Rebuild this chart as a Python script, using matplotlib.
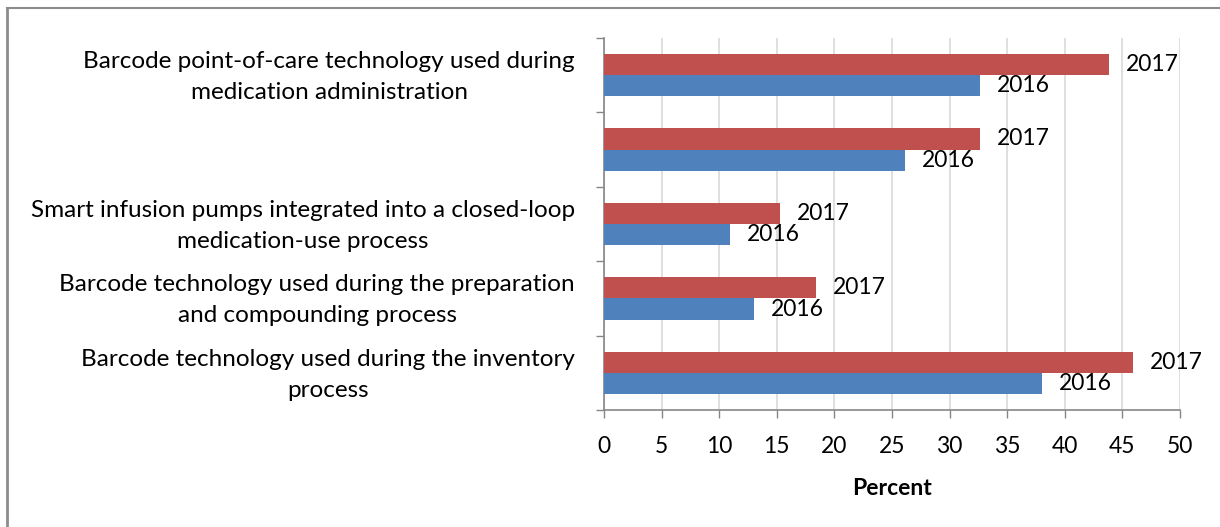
import numpy as np
import matplotlib.pyplot as plt
from matplotlib.lines import Line2D

plt.rcParams['font.family'] = ['Lato', 'DejaVu Sans']

# data (top to bottom as in the chart)
categories = [
    "Barcode point-of-care technology used during\nmedication administration",
    "",
    "Smart infusion pumps integrated into a closed-loop\nmedication-use process",
    "Barcode technology used during the preparation\nand compounding process",
    "Barcode technology used during the inventory\nprocess",
]
vals_2017 = [43.8, 32.6, 15.3, 18.4, 45.9]
vals_2016 = [32.6, 26.1, 10.9, 13.0, 38.0]
series_names = ["2017", "2016"]
xticks = list(range(0, 51, 5))

red = '#C0504D'
blue = '#4F81BD'
grid_c = '#D9D9D9'
axis_c = '#868686'

fig = plt.figure(figsize=(12.2, 5.27), dpi=100)
ax = fig.add_axes([604 / 1220, 1 - 410 / 527, 576 / 1220, 372 / 527])

n = len(categories)
y = np.arange(n)[::-1]  # top category at highest y
h = 0.286

b17 = ax.barh(y + h / 2, vals_2017, height=h, color=red, zorder=3)
b16 = ax.barh(y - h / 2, vals_2016, height=h, color=blue, zorder=3)

for bars, name in [(b17, series_names[0]), (b16, series_names[1])]:
    for rect in bars:
        ax.annotate(name, (rect.get_width(), rect.get_y() + rect.get_height() / 2),
                    xytext=(17, 0), textcoords='offset pixels',
                    va='center', ha='left', fontsize=16.5)

ax.set_xlim(0, 50)
ax.set_ylim(-0.5, n - 0.5)
ax.set_xticks(xticks)
ax.set_xticklabels([str(t) for t in xticks], fontsize=16.5)
# invisible major ticks, nudged up a little so the wrapped labels sit like the original
ax.set_yticks(y + 0.07)
ax.set_yticklabels(categories, fontsize=17.5, linespacing=1.6)
for lab in ax.get_yticklabels():
    lab.set_multialignment('center')

# category boundary ticks on the y axis
ax.set_yticks(np.arange(-0.5, n, 1.0), minor=True)
ax.tick_params(axis='y', which='major', length=0, pad=21)
ax.tick_params(axis='y', which='minor', length=6, color=axis_c, width=1)
ax.tick_params(axis='x', which='major', length=6, color=axis_c, width=1, pad=13)

ax.xaxis.grid(True, color=grid_c, linewidth=1.2, zorder=0)
ax.set_axisbelow(True)
for s in ['top', 'right']:
    ax.spines[s].set_visible(False)
for s in ['left', 'bottom']:
    ax.spines[s].set_color(axis_c)
    ax.spines[s].set_linewidth(1.2)

ax.set_xlabel("Percent", fontsize=16.5, fontweight='bold', labelpad=15)

# outer chart border (left and top edges only)
fig.add_artist(Line2D([7 / 1220, 7 / 1220], [0, 1 - 8 / 527], transform=fig.transFigure,
                      color='#8C8C8C', linewidth=2))
fig.add_artist(Line2D([7 / 1220, 1], [1 - 8 / 527, 1 - 8 / 527], transform=fig.transFigure,
                      color='#8C8C8C', linewidth=1.5))

fig.savefig('out.png', dpi=100)
